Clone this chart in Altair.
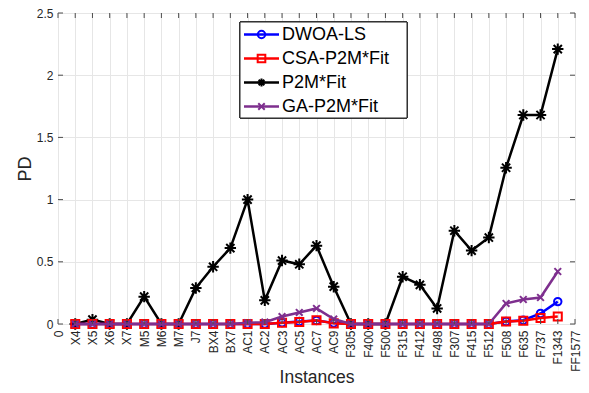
import altair as alt
import pandas as pd

# ---------------- data ----------------
tick_labels = ["0", "X4", "X5", "X6", "X7", "M5", "M6", "M7", "J7", "BX4", "BX7",
               "AC1", "AC2", "AC3", "AC5", "AC7", "AC9", "F305", "F400", "F500",
               "F315", "F412", "F498", "F307", "F415", "F512", "F508", "F635",
               "F737", "F1343", "FF1577"]
instances = tick_labels[1:30]

p2m = [0, 0.035, 0, 0, 0.22, 0, 0, 0.29, 0.46, 0.61, 1.0, 0.19, 0.51, 0.48, 0.63, 0.30,
       0, 0, 0, 0.38, 0.315, 0.125, 0.75, 0.59, 0.695, 1.256, 1.68, 1.68, 2.21]
ga = [0, 0, 0, 0, 0, 0, 0, 0, 0, 0, 0.01, 0.015, 0.06, 0.093, 0.125, 0.04,
      0, 0, 0, 0, 0, 0, 0, 0, 0, 0.165, 0.197, 0.213, 0.422]
dwoa = [0, 0, 0, 0, 0, 0, 0, 0, 0, 0, 0, 0, 0.01, 0.02, 0.028, 0.008,
        0, 0, 0, 0, 0, 0, 0, 0, 0, 0.02, 0.03, 0.085, 0.18]
csa = [0, 0, 0, 0, 0, 0, 0, 0, 0, 0, 0, 0, 0.01, 0.016, 0.03, 0.005,
       0, 0, 0, 0, 0, 0, 0, 0, 0, 0.02, 0.026, 0.048, 0.06]

legend_order = ["DWOA-LS", "CSA-P2M*Fit", "P2M*Fit", "GA-P2M*Fit"]
draw_order = ["P2M*Fit", "DWOA-LS", "CSA-P2M*Fit", "GA-P2M*Fit"]
series_values = {"DWOA-LS": dwoa, "CSA-P2M*Fit": csa, "P2M*Fit": p2m, "GA-P2M*Fit": ga}
colors = {"DWOA-LS": "#0000ff", "CSA-P2M*Fit": "#ff0000", "P2M*Fit": "#000000",
          "GA-P2M*Fit": "#7e2f8e"}

y_ticks = [0, 0.5, 1, 1.5, 2, 2.5]

# ---------------- styles ----------------
ASTERISK = "M0,-1V1M-1,0H1M-0.72,-0.72L0.72,0.72M-0.72,0.72L0.72,-0.72"
XMARK = "M-0.8,-0.8L0.8,0.8M-0.8,0.8L0.8,-0.8"
shapes = {"DWOA-LS": "circle", "CSA-P2M*Fit": "square", "P2M*Fit": ASTERISK,
          "GA-P2M*Fit": XMARK}
sizes = {"DWOA-LS": 55, "CSA-P2M*Fit": 65, "P2M*Fit": 130, "GA-P2M*Fit": 70}

W, H = 517, 311
FONT = "Liberation Sans"
AX = "#262626"
LW = 2.5

rows = []
for s in legend_order:
    for i, (name, v) in enumerate(zip(instances, series_values[s])):
        rows.append({"series": s, "idx": i + 1, "instance": name, "pd": v})
df = pd.DataFrame(rows)

xscale = alt.Scale(type="point", domain=tick_labels, padding=0)
yscale = alt.Scale(domain=[0, 2.5], nice=False)

x_axis = alt.Axis(labelAngle=-90, labelAlign="right", labelBaseline="middle",
                  labelPadding=6, tickSize=0, domain=False,
                  grid=True, gridColor="#e6e6e6", gridWidth=1,
                  labelFont=FONT, labelFontSize=12, labelColor=AX,
                  title="Instances", titleFont=FONT, titleFontSize=17.5,
                  titleFontWeight="normal", titleColor=AX,
                  titleBaseline="middle", titleY=53, labelOverlap=False)
y_axis = alt.Axis(values=y_ticks, format="~g", tickSize=0, labelPadding=5,
                  domain=False, grid=True, gridColor="#e6e6e6", gridWidth=1,
                  labelFont=FONT, labelFontSize=12, labelColor=AX,
                  title="PD", titleFont=FONT, titleFontSize=18,
                  titleFontWeight="normal", titleColor=AX,
                  titleAngle=-90, titleX=-33, titleY=H / 2,
                  titleAlign="center", titleBaseline="middle")

base = alt.Chart(df)
layers = []

first = True
for s in draw_order:
    sub = base.transform_filter(alt.datum.series == s)
    if first:
        xe = alt.X("instance:N", scale=xscale, axis=x_axis)
        ye = alt.Y("pd:Q", scale=yscale, axis=y_axis)
        first = False
    else:
        xe = alt.X("instance:N", scale=xscale)
        ye = alt.Y("pd:Q", scale=yscale)
    layers.append(sub.mark_line(color=colors[s], strokeWidth=LW).encode(
        x=xe, y=ye, order=alt.Order("idx:Q")))
    layers.append(sub.mark_point(shape=shapes[s], size=sizes[s], filled=False,
                                 color=colors[s], strokeWidth=2, opacity=1).encode(
        x=alt.X("instance:N", scale=xscale), y=alt.Y("pd:Q", scale=yscale)))

# inner tick marks (MATLAB style)
xt = pd.DataFrame({"instance": tick_labels})
yt = pd.DataFrame({"pd": y_ticks})
tick_col = "#4d4d4d"
xs = alt.X("instance:N", scale=xscale)
ys = alt.Y("pd:Q", scale=yscale)
layers.append(alt.Chart(xt).mark_rule(color=tick_col, strokeWidth=1).encode(
    x=xs, y=alt.value(H), y2=alt.value(H - 5)))
layers.append(alt.Chart(xt).mark_rule(color=tick_col, strokeWidth=1).encode(
    x=xs, y=alt.value(0), y2=alt.value(5)))
layers.append(alt.Chart(yt).mark_rule(color=tick_col, strokeWidth=1).encode(
    y=ys, x=alt.value(0), x2=alt.value(5)))
layers.append(alt.Chart(yt).mark_rule(color=tick_col, strokeWidth=1).encode(
    y=ys, x=alt.value(W), x2=alt.value(W - 5)))

# legend (drawn with its own positional scale)
leg = pd.DataFrame({"series": legend_order})
ly = alt.Y("series:N", scale=alt.Scale(type="point", domain=legend_order,
                                        range=[21.5, 93.5], padding=0), axis=None)
col_enc = alt.Color("series:N", scale=alt.Scale(domain=legend_order,
                                                range=[colors[s] for s in legend_order]),
                    legend=None)
shape_enc = alt.Shape("series:N", scale=alt.Scale(domain=legend_order,
                                                  range=[shapes[s] for s in legend_order]),
                      legend=None)
size_enc = alt.Size("series:N", scale=alt.Scale(domain=legend_order,
                                                range=[sizes[s] for s in legend_order]),
                    legend=None)

legend_layers = [
    alt.Chart(leg).mark_rect(fill="white", stroke="#262626", strokeWidth=1).encode(
        x=alt.value(182), x2=alt.value(349), y=alt.value(9), y2=alt.value(105)),
    alt.Chart(leg).mark_rule(strokeWidth=LW).encode(
        x=alt.value(186), x2=alt.value(221), y=ly, color=col_enc),
    alt.Chart(leg).mark_point(filled=False, strokeWidth=2, opacity=1).encode(
        x=alt.value(203.5), y=ly, color=col_enc, shape=shape_enc, size=size_enc),
    alt.Chart(leg).mark_text(align="left", baseline="middle", font=FONT, fontSize=18,
                             color="#000000").encode(
        x=alt.value(224), y=ly, text="series:N"),
]

main = alt.layer(*layers)
legend_chart = alt.layer(*legend_layers)

chart = alt.layer(main, legend_chart).resolve_scale(
    y="independent", x="independent"
).properties(
    width=W, height=H,
    autosize=alt.AutoSizeParams(type="none"),
    padding={"left": 50, "top": 5, "right": 6, "bottom": 61},
).configure_view(
    stroke=AX, strokeWidth=1, fill="white"
).configure(background="white")

chart.save("out.html", embed_options={"renderer": "svg", "actions": False})
